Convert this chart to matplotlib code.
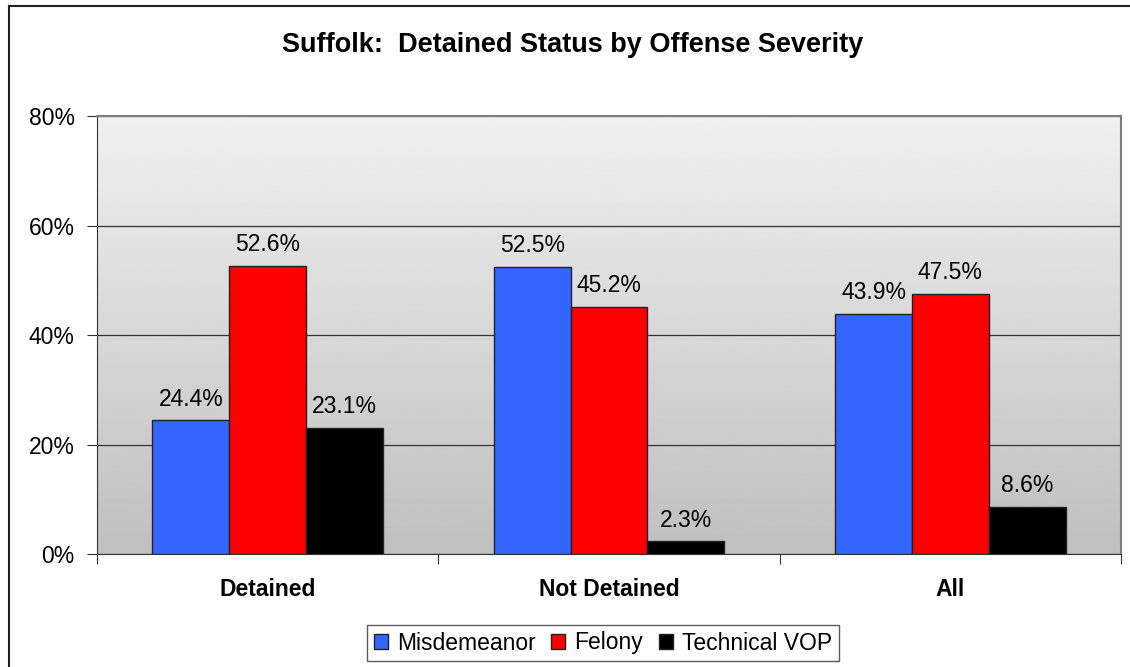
import numpy as np
import matplotlib.pyplot as plt
from matplotlib.lines import Line2D

plt.rcParams['font.family'] = ['Liberation Sans', 'DejaVu Sans']

categories = ['Detained', 'Not Detained', 'All']
series = ['Misdemeanor', 'Felony', 'Technical VOP']
misdemeanor = [24.4, 52.5, 43.9]
felony = [52.6, 45.2, 47.5]
technical_vop = [23.1, 2.3, 8.6]
colors = ['#3366FF', '#FF0000', '#000000']
yticks = [0, 20, 40, 60, 80]


def main():
    fig = plt.figure(figsize=(11.3, 6.67), dpi=100)
    ax = fig.add_axes([97 / 1130, 113 / 667, 1024 / 1130, 438 / 667])

    # grey gradient behind the bars
    grad = np.linspace(0.94, 0.75, 256).reshape(-1, 1)
    ax.imshow(grad, cmap='gray', vmin=0, vmax=1, aspect='auto',
              extent=[-0.5, 2.5, 0, 80], origin='upper', zorder=0)

    x = np.arange(len(categories))
    width = 0.225
    for i, (name, vals) in enumerate(zip(series, [misdemeanor, felony, technical_vop])):
        pos = x + (i - 1) * width
        ax.bar(pos, vals, width, color=colors[i], edgecolor='#222222',
               linewidth=1.0, zorder=3, label=name)
        for p, v in zip(pos, vals):
            ax.annotate(f'{v:.1f}%', (p, v), xytext=(0, 7), textcoords='offset points',
                        ha='center', va='bottom', fontsize=16.5, zorder=4)

    ax.set_xlim(-0.5, 2.5)
    ax.set_ylim(0, 80)
    ax.set_yticks(yticks)
    ax.set_yticklabels([f'{t}%' for t in yticks], fontsize=16.5)
    ax.yaxis.grid(True, color='#333333', linewidth=0.9, zorder=1)
    ax.set_axisbelow(True)

    # ticks between categories, labels centred
    ax.set_xticks([-0.5, 0.5, 1.5, 2.5])
    ax.set_xticklabels([])
    ax.set_xticks(x, minor=True)
    ax.set_xticklabels(categories, minor=True, fontsize=16.5, fontweight='bold')
    ax.tick_params(axis='x', which='minor', length=0, pad=17)
    ax.tick_params(axis='x', which='major', length=7, color='#333333')
    ax.tick_params(axis='y', length=7, color='#333333', pad=9)

    ax.spines['left'].set_color('#333333')
    ax.spines['bottom'].set_color('#333333')
    ax.spines['top'].set_color('#808080')
    ax.spines['right'].set_color('#808080')
    ax.spines['top'].set_linewidth(1.5)
    ax.spines['right'].set_linewidth(1.5)

    fig.text(573 / 1130, 1 - 45 / 667, 'Suffolk:  Detained Status by Offense Severity',
             ha='center', va='center', fontsize=19.5, fontweight='bold')

    leg = fig.legend(loc='center', bbox_to_anchor=(603 / 1130, 24 / 667), ncol=3,
                     fontsize=16.5, frameon=True, fancybox=False, handlelength=0.6,
                     handleheight=0.6, handletextpad=0.4, columnspacing=0.7,
                     borderpad=0.3)
    leg.get_frame().set_edgecolor('#333333')
    leg.get_frame().set_linewidth(1.0)

    # outer chart border (left and top edges visible)
    fig.add_artist(Line2D([8.5 / 1130, 8.5 / 1130], [0, 661 / 667], color='#222222', lw=1.5))
    fig.add_artist(Line2D([8.5 / 1130, 1], [661 / 667, 661 / 667], color='#222222', lw=1.5))

    fig.savefig('out.png', dpi=100)


if __name__ == "__main__":
    main()
